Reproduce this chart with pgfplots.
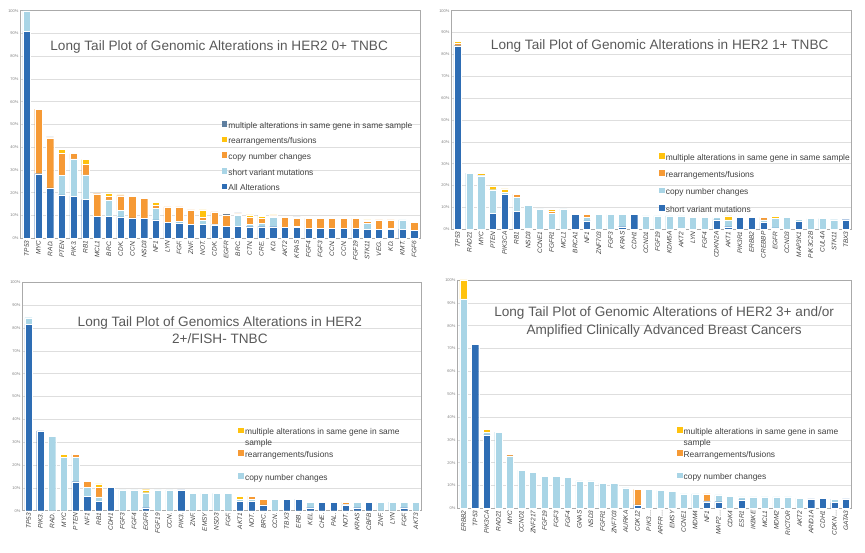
\documentclass[border=0pt]{standalone}
\usepackage{pgfplots}
\pgfplotsset{compat=1.18}
\usepackage{pgfplotstable}
\usepackage{fontspec}
\setmainfont{Liberation Sans}
\definecolor{dblue}{RGB}{46,109,180}
\definecolor{lblue}{RGB}{169,213,230}
\definecolor{orng}{RGB}{246,154,53}
\definecolor{yell}{RGB}{255,194,14}
\definecolor{multi}{RGB}{95,127,160}
\definecolor{gridgray}{RGB}{222,222,222}
\definecolor{axgray}{RGB}{170,170,170}
\definecolor{labgray}{RGB}{64,64,64}
\definecolor{titgray}{RGB}{89,89,89}

% panel 1: dark, light, orange, yellow, multi
\pgfplotstableread{
x a b c d e
0 91 9 0 0 0
1 28.4 0 28.4 0 0
2 22.1 0 22.0 0 0.5
3 19.1 8.5 9.6 1.8 0
4 18.5 16.4 2.3 0 0
5 17.1 10.8 4.5 2.2 0
6 9.7 0 9.9 0 0
7 9.7 7.2 1.5 1.5 0
8 9.4 2.8 6.5 0.4 0
9 9.0 0 9.4 0 0
10 8.7 0 8.8 0 0
11 8.1 5.0 1.3 1.3 0.5
12 6.9 0 6.9 0 0
13 6.8 0.6 6.4 0 0
14 6.2 0 6.3 0 0
15 6.2 1.6 1.5 3.2 0
16 5.9 0.2 5.5 0 0
17 5.4 0 4.9 0 0.7
18 5.4 4.6 0.7 0 0.5
19 5.1 1.1 3.1 1.0 0
20 5.1 1.5 2.2 0.8 0.5
21 5.1 4.2 0.6 0.4 0
22 4.7 0 4.6 0 0
23 4.7 0.7 3.3 0 0.7
24 4.3 0 4.4 0 0
25 4.3 0 4.4 0 0
26 4.3 0 4.4 0 0
27 4.3 0 4.4 0 0
28 4.3 0 4.4 0 0
29 4.0 2.6 0.8 0.7 0
30 4.0 0 4.1 0 0
31 4.0 0.4 3.7 0 0
32 4.0 4.1 0 0 0
33 3.4 0 3.7 0 0
}\tA

% panel 2: dark, light, orange, yellow
\pgfplotstableread{
x a b c d
0 84 0 1 1
1 0 25.7 0 0
2 0 24.5 0.4 0.6
3 7.4 10.7 0 1.8
4 16.1 0.9 0 1.5
5 8.1 6.4 1.6 0
6 0.5 10.5 0 0
7 0 9.3 0 0
8 0 7.4 1.0 0.8
9 0 9.3 0 0
10 6.9 0.5 0 0
11 3.9 1.6 1.4 0.4
12 0 6.7 0 0
13 0 6.7 0 0
14 1.2 5.5 0 0
15 6.7 0 0 0
16 0 6.1 0 0
17 0 6.1 0 0
18 0 6.1 0 0
19 0.5 5.6 0 0
20 0 5.5 0 0
21 0 5.5 0 0
22 4.3 1.2 0 0
23 1.2 3.1 0 1.8
24 5.5 0 0 0
25 5.5 0 0 0
26 3.2 1.1 1.2 0
27 0.6 4.4 0 0.8
28 0 5.5 0 0
29 3.7 0.9 0 0
30 0 4.9 0 0
31 0 4.9 0 0
32 0 4.4 0 0
33 4.4 0 0 0
}\tB

% panel 3
\pgfplotstableread{
x a b c d
0 81.7 2.8 0 0
1 35.0 0 0 0
2 0 32.5 0 0
3 0 23.3 0 1.4
4 12.7 10.6 1.4 0
5 6.3 3.9 2.8 0
6 4.0 2.1 4.1 1.5
7 10.2 0 0 0
8 0 9.1 0 0
9 0 9.1 0 0
10 1.3 6.6 0 1.3
11 0 9.1 0 0
12 0 9.1 0 0
13 9.1 0 0 0
14 0 7.6 0 0
15 0 7.6 0 0
16 0 7.6 0 0
17 0 7.6 0 0
18 4.0 1.1 0 1.3
19 4.0 1.1 1.3 0
20 2.5 0 2.6 0
21 0 5.1 0 0
22 5.1 0 0 0
23 5.1 0 0 0
24 1.3 2.5 0 0
25 3.8 0 0 0
26 3.8 0 0 0
27 2.5 0.3 1.0 0
28 1.3 2.5 0 0
29 3.8 0 0 0
30 0 3.8 0 0
31 0 3.8 0 0
32 1.3 2.5 0 0
33 0 3.8 0 0
}\tC

% panel 4
\pgfplotstableread{
x a b c d
0 0 91.7 0 8.3
1 71.7 0 0 0
2 32.2 1.2 0 1.2
3 0 33.4 0 0
4 0 23.0 0.5 0.2
5 0 16.7 0 0
6 0 15.7 0 0
7 0 14.1 0 0
8 0 14.1 0 0
9 0 13.5 0 0
10 0 12.0 0 0
11 0 12.0 0 0
12 0 11.0 0 0
13 0 11.0 0 0
14 0 8.9 0 0
15 1.5 0 6.8 0
16 0 8.3 0 0
17 0 7.8 0 0
18 0 7.3 0 0
19 0 6.3 0 0
20 0 6.3 0 0
21 2.9 0.3 3.1 0
22 2.9 3.0 0 0
23 0 5.3 0 0
24 3.7 1.3 0 0
25 0 5.0 0 0
26 0 5.0 0 0
27 0 5.0 0 0
28 0 5.0 0 0
29 0 4.4 0 0
30 4.1 0 0 0
31 4.4 0 0 0
32 2.5 1.5 0 0
33 4.1 0 0 0
}\tD

\pgfplotsset{
  sq/.style={legend image code/.code={\fill[#1] (0pt,0pt) rectangle (4.6pt,4.6pt);}},
  panel/.style={
    ybar stacked, bar width=0.62, scale only axis,
    xmin=-0.5, xmax=33.5, ymin=0, ymax=100,
    xtick={0,...,33}, ytick={0,10,...,100},
    yticklabels={0\%,10\%,20\%,30\%,40\%,50\%,60\%,70\%,80\%,90\%,100\%},
    major tick length=0pt,
    ymajorgrids, grid style={color=gridgray, line width=0.6pt},
    axis line style={color=axgray, line width=0.6pt},
    xticklabel style={rotate=90, anchor=east, font=\fontsize{6.5}{7}\selectfont\itshape, text=labgray, inner sep=2pt},
    yticklabel style={font=\fontsize{4}{4}\selectfont, text=gray, inner sep=2pt},
    legend cell align=left,
    legend style={draw=none, fill=none, font=\fontsize{8.4}{9.5}\selectfont, text=labgray,
      anchor=north west, inner sep=0pt,
      /tikz/every odd column/.append style={column sep=1.2pt},
      nodes={inner ysep=0.6pt, inner xsep=0.5pt, text height=6.2pt, text depth=1.6pt}},
  },
  seg/.style={fill=#1, draw=white, line width=0.3pt, forget plot},
}

\begin{document}
\begin{tikzpicture}
\useasboundingbox (0,0) rectangle (865pt,553pt);

% ---------- Panel 1 ----------
\begin{axis}[panel, at={(20.7pt,314.7pt)}, anchor=south west, width=399.3pt, height=227.6pt,
  xticklabels={TP53,MYC,RAD.,PTEN,PIK3.,RB1,MCL1,BRC.,CDK.,CCN.,NSD3,NF1,LYN,FGF.,ZNF.,NOT.,CDK.,EGFR,BRC.,CTN.,CRE.,KD.,AKT2,KRAS,FGF4,FGF3,CCN.,CCN.,FGF19,STK11,VEG.,KD.,KMT.,FGF6},
  legend style={at={(rel axis cs:0.503,0.515)}, row sep=6.3pt}]
\addplot[seg=dblue] table[x=x,y=a]{\tA};
\addplot[seg=lblue] table[x=x,y=b]{\tA};
\addplot[seg=orng] table[x=x,y=c]{\tA};
\addplot[seg=yell] table[x=x,y=d]{\tA};
\addplot[seg=multi] table[x=x,y=e]{\tA};
\addlegendimage{sq=multi}\addlegendentry{multiple alterations in same gene in same sample}
\addlegendimage{sq=yell}\addlegendentry{rearrangements/fusions}
\addlegendimage{sq=orng}\addlegendentry{copy number changes}
\addlegendimage{sq=lblue}\addlegendentry{short variant mutations}
\addlegendimage{sq=dblue}\addlegendentry{All Alterations}
\node[font=\fontsize{13.6}{16}\selectfont, text=titgray] at (rel axis cs:0.497,0.842) {Long Tail Plot of Genomic Alterations in HER2 0+ TNBC};
\end{axis}

% ---------- Panel 2 ----------
\begin{axis}[panel, at={(451.7pt,323.7pt)}, anchor=south west, width=400pt, height=218.6pt,
  xticklabels={TP53,RAD21,MYC,PTEN,PIK3CA,RB1,NSD3,CCNE1,FGFR1,MCL1,BRCA1,NF1,ZNF703,FGF3,KRAS,CDH1,CCND1,FGF19,KDM5A,AKT2,LYN,FGF4,CDKN2A,AKT1,PIK3R1,ERBB2,CREBBP,EGFR,CCND3,MAP3K1,PIK3C2B,CUL4A,STK11,TBX3},
  legend style={at={(rel axis cs:0.518,0.35)}, row sep=8.1pt}]
\addplot[seg=dblue] table[x=x,y=a]{\tB};
\addplot[seg=lblue] table[x=x,y=b]{\tB};
\addplot[seg=orng] table[x=x,y=c]{\tB};
\addplot[seg=yell] table[x=x,y=d]{\tB};
\addlegendimage{sq=yell}\addlegendentry{multiple alterations in same gene in same sample}
\addlegendimage{sq=orng}\addlegendentry{rearrangements/fusions}
\addlegendimage{sq=lblue}\addlegendentry{copy number changes}
\addlegendimage{sq=dblue}\addlegendentry{short variant mutations}
\node[font=\fontsize{13.6}{16}\selectfont, text=titgray] at (rel axis cs:0.52,0.839) {Long Tail Plot of Genomic Alterations in HER2 1+ TNBC};
\end{axis}

% ---------- Panel 3 ----------
\begin{axis}[panel, at={(22.7pt,42.3pt)}, anchor=south west, width=399pt, height=228.4pt,
  xticklabels={TP53,PIK3.,RAD.,MYC,PTEN,NF1,RB1,CDH1,FGF3,FGF4,EGFR,FGF19,CCN.,PIK3.,ZNF.,EMSY,NSD3,FGF.,AKT1,NOT.,BRC.,CCN.,TBX3,ERB.,KEL,CHE.,PAL.,NOT.,KRAS,CBFB,ZNF.,LYN,FGF.,AKT3},
  legend style={at={(rel axis cs:0.54,0.365)}, row sep=2.2pt}]
\addplot[seg=dblue] table[x=x,y=a]{\tC};
\addplot[seg=lblue] table[x=x,y=b]{\tC};
\addplot[seg=orng] table[x=x,y=c]{\tC};
\addplot[seg=yell] table[x=x,y=d]{\tC};
\addlegendimage{sq=yell}\addlegendentry{multiple alterations in same gene in same}
\addlegendimage{empty legend}\addlegendentry{sample}
\addlegendimage{sq=orng}\addlegendentry{rearrangements/fusions}
\addlegendimage{empty legend}\addlegendentry{}
\addlegendimage{sq=lblue}\addlegendentry{copy number changes}
\node[font=\fontsize{13.6}{17.5}\selectfont, text=titgray, align=center] at (rel axis cs:0.494,0.791) {Long Tail Plot of Genomics Alterations in HER2\\2+/FISH- TNBC};
\end{axis}

% ---------- Panel 4 ----------
\begin{axis}[panel, at={(457.7pt,44.7pt)}, anchor=south west, width=394pt, height=228.3pt,
  xticklabels={ERBB2,TP53,PIK3CA,RAD21,MYC,CCND1,ZNF217,FGF19,FGF3,FGF4,GNAS,NSD3,FGFR1,ZNF703,AURKA,CDK12,PIK3…,ARFR…,EMSY,CCNE1,MDM4,NF1,MAP2…,CDK4,ESR1,IKBKE,MCL1,MDM2,RICTOR,AKT2,ARID1A,CDH1,CDKN…,GATA3},
  legend style={at={(rel axis cs:0.556,0.355)}, row sep=2.2pt}]
\addplot[seg=dblue] table[x=x,y=a]{\tD};
\addplot[seg=lblue] table[x=x,y=b]{\tD};
\addplot[seg=orng] table[x=x,y=c]{\tD};
\addplot[seg=yell] table[x=x,y=d]{\tD};
\addlegendimage{sq=yell}\addlegendentry{multiple alterations in same gene in same}
\addlegendimage{empty legend}\addlegendentry{sample}
\addlegendimage{sq=orng}\addlegendentry{Rearrangements/fusions}
\addlegendimage{empty legend}\addlegendentry{}
\addlegendimage{sq=lblue}\addlegendentry{copy number changes}
\node[font=\fontsize{13.6}{17.5}\selectfont, text=titgray, align=center] at (rel axis cs:0.524,0.816) {Long Tail Plot of Genomic Alterations of HER2 3+ and/or\\Amplified Clinically Advanced Breast Cancers};
\end{axis}
\end{tikzpicture}
\end{document}
